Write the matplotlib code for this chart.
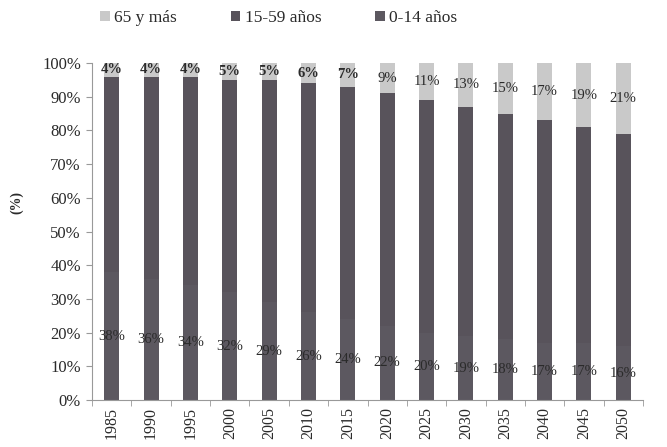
import matplotlib
matplotlib.use("Agg")
import matplotlib.pyplot as plt
import numpy as np

years = ["1985", "1990", "1995", "2000", "2005", "2010", "2015",
         "2020", "2025", "2030", "2035", "2040", "2045", "2050"]
age_0_14 = [38, 36, 34, 32, 29, 26, 24, 22, 20, 19, 18, 17, 17, 16]
age_65_plus = [4, 4, 4, 5, 5, 6, 7, 9, 11, 13, 15, 17, 19, 21]
age_15_59 = [100 - a - b for a, b in zip(age_0_14, age_65_plus)]

plt.rcParams["font.family"] = ["Liberation Serif", "DejaVu Serif"]

c_young = "#5c5860"
c_mid = "#58535b"
c_old = "#c9c9c9"
txt = "#2a2a2a"

fig = plt.figure(figsize=(6.67, 4.47), dpi=100)
ax = fig.add_axes([0.138, 0.105, 0.826, 0.754])

x = np.arange(len(years))
w = 0.38
b1 = ax.bar(x, age_0_14, w, color=c_young, label="0-14 años")
b2 = ax.bar(x, age_15_59, w, bottom=age_0_14, color=c_mid, label="15-59 años")
bottom3 = [a + b for a, b in zip(age_0_14, age_15_59)]
b3 = ax.bar(x, age_65_plus, w, bottom=bottom3, color=c_old, label="65 y más")

for xi, v in zip(x, age_0_14):
    ax.text(xi, v / 2, f"{v}%", ha="center", va="center", fontsize=10.5, color=txt)
for xi, b, v in zip(x, bottom3, age_65_plus):
    ax.text(xi, b + v / 2, f"{v}%", ha="center", va="center", fontsize=10.5,
            color=txt, fontweight="bold" if v < 8 else "normal")

ax.set_xlim(-0.5, len(years) - 0.5)
ax.set_ylim(0, 100)
ax.set_yticks(np.arange(0, 101, 10))
ax.set_yticklabels([f"{v}%" for v in range(0, 101, 10)], fontsize=12, color=txt)
ax.set_xticks(x)
ax.set_xticklabels(years, rotation=90, fontsize=11.5, color=txt)
ax.tick_params(axis="x", length=0, pad=5)
ax.set_xticks(np.arange(-0.5, len(years), 1), minor=True)
ax.tick_params(axis="x", which="minor", length=4, color="#999999")
ax.tick_params(axis="y", length=4, color="#999999", pad=4)

for s in ["top", "right"]:
    ax.spines[s].set_visible(False)
for s in ["left", "bottom"]:
    ax.spines[s].set_color("#999999")
    ax.spines[s].set_linewidth(0.8)

ax.set_ylabel("(%)", fontsize=10, color=txt, fontweight="bold")
ax.yaxis.set_label_coords(-0.125, 0.585)

handles = [b3, b2, b1]
fig.legend(handles, [h.get_label() for h in handles], loc="upper center",
           bbox_to_anchor=(0.418, 1.012), ncol=3, frameon=False, fontsize=12.5,
           handlelength=0.55, handleheight=0.55, handletextpad=0.25,
           columnspacing=3.1, labelcolor=txt)

fig.savefig("out.png", dpi=100)
